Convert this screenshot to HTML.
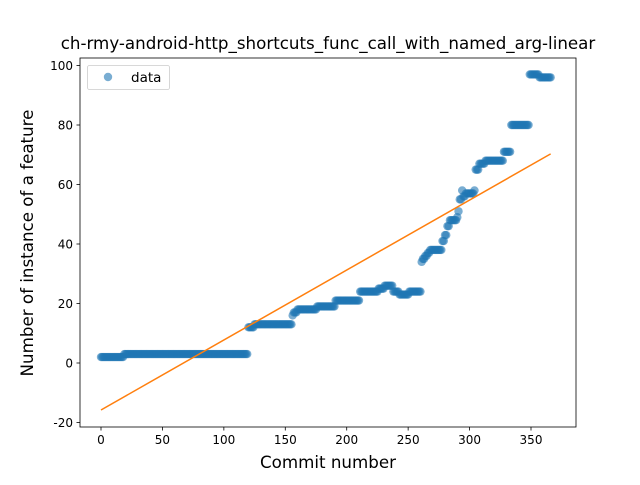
<!DOCTYPE html>
<html><head><meta charset="utf-8"><style>
html,body{margin:0;padding:0;background:#fff;}
svg text{font-family:"DejaVu Sans","Liberation Sans",sans-serif;fill:#000;}
</style></head><body>
<svg id="chart" width="640" height="480" xmlns="http://www.w3.org/2000/svg">
<rect width="640" height="480" fill="#fff"/>
<text x="328" y="49" font-size="16.7" text-anchor="middle">ch-rmy-android-http_shortcuts_func_call_with_named_arg-linear</text>
<g id="grid-x"></g>
<g id="grid-y"></g>
<g id="points"></g>
<g id="fit"></g>
<rect x="80" y="58" width="496" height="369" fill="none" stroke="#000" stroke-width="0.8"/>
<text x="328" y="468" font-size="16.7" text-anchor="middle">Commit number</text>
<text transform="translate(33,243) rotate(-90)" font-size="16.7" text-anchor="middle">Number of instance of a feature</text>
<g>
<rect x="87.5" y="65.5" width="82" height="24" rx="2" fill="#fff" stroke="#ccc" stroke-width="0.8"/>
<circle cx="108" cy="77" r="4.2" fill="#1f77b4" fill-opacity="0.6"/>
<text x="131" y="82" font-size="13.5">data</text>
</g>
</svg>
<script>
// runs of constant value: start commit, end commit (inclusive), value
const runStarts = [0,19,120,125,156,157,160,176,191,211,226,231,238,243,251,261,262,264,266,268,278,280,282,284,290,291,292,294,295,297,304,305,308,313,328,334,349,357];
const runEnds   = [18,119,124,155,156,159,175,190,210,225,230,237,242,250,260,261,263,265,267,277,279,281,283,289,290,291,293,294,296,303,304,307,312,327,333,348,356,366];
const runValues = [2,3,12,13,16,17,18,19,21,24,25,26,24,23,24,34,35,36,37,38,41,43,46,48,49,51,55,58,56,57,58,65,67,68,71,80,97,96];
const xTicks = [0,50,100,150,200,250,300,350];
const yTicks = [-20,0,20,40,60,80,100];

const NS="http://www.w3.org/2000/svg";
const X = v => 101 + v*(430/350);
const Y = v => 363 - v*(357/120);
function mk(tag, attrs, parent){const e=document.createElementNS(NS,tag);for(const k in attrs)e.setAttribute(k,attrs[k]);parent.appendChild(e);return e;}

const gx=document.getElementById('grid-x'), gy=document.getElementById('grid-y');
xTicks.forEach(t=>{
  const l=mk('line',{x1:X(t),x2:X(t),y1:427,y2:430.5,stroke:'#000','stroke-width':0.8},gx);
  
  
  const tx=mk('text',{x:X(t),y:444,'font-size':12,'text-anchor':'middle'},gx);
  tx.textContent=t;
  
  
});
yTicks.forEach(t=>{
  const l=mk('line',{x1:76.5,x2:80,y1:Y(t),y2:Y(t),stroke:'#000','stroke-width':0.8},gy);
  
  
  const tx=mk('text',{x:73,y:Y(t)+4.5,'font-size':12,'text-anchor':'end'},gy);
  tx.textContent=t;
  
  
});

const xs=[], ys=[];
runStarts.forEach((s,i)=>{for(let c=s;c<=runEnds[i];c++){xs.push(c);ys.push(runValues[i]);}});
const gp=document.getElementById('points');
xs.forEach((c,i)=>{
  const p=mk('circle',{cx:X(c),cy:Y(ys[i]),r:4.2,fill:'#1f77b4','fill-opacity':0.6},gp);
  
  
});
// least squares fit
const n=xs.length; let sx=0,sy=0,sxx=0,sxy=0;
for(let i=0;i<n;i++){sx+=xs[i];sy+=ys[i];sxx+=xs[i]*xs[i];sxy+=xs[i]*ys[i];}
const b=(n*sxy-sx*sy)/(n*sxx-sx*sx), a=(sy-b*sx)/n;
const x0=xs[0], x1=xs[n-1];
const fl=mk('line',{x1:X(x0),y1:Y(a+b*x0),x2:X(x1),y2:Y(a+b*x1),stroke:'#ff7f0e','stroke-width':1.5},document.getElementById('fit'));


</script>
</body></html>
